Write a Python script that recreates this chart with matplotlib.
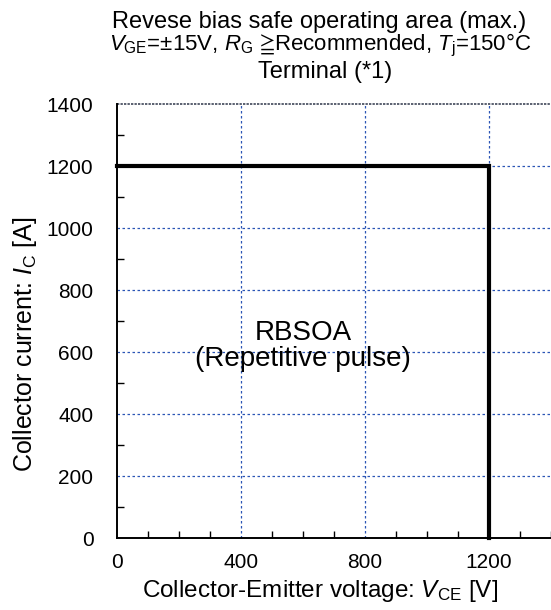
import matplotlib
matplotlib.use("Agg")
import matplotlib.pyplot as plt
from matplotlib.ticker import MultipleLocator

plt.rcParams['font.family'] = ['Liberation Sans', 'DejaVu Sans']
plt.rcParams['mathtext.fontset'] = 'custom'
plt.rcParams['mathtext.rm'] = 'Liberation Sans'
plt.rcParams['mathtext.it'] = 'Liberation Sans:italic'
plt.rcParams['mathtext.fallback'] = 'stixsans'

# Data
vce = [0, 1200, 1200]
ic = [1200, 1200, 0]
x_ticks = [0, 400, 800, 1200]
y_ticks = [0, 200, 400, 600, 800, 1000, 1200, 1400]
x_grid = [400, 800, 1200]
y_grid = [200, 400, 600, 800, 1000, 1200]

W, H = 551, 610
fig = plt.figure(figsize=(W/100, H/100), dpi=100)
ax = fig.add_axes([117/W, (H-538)/H, 1 - 117/W, (538-104)/H])

ax.plot(vce, ic, color='black', lw=3, solid_joinstyle='miter', zorder=3, clip_on=False)

ax.set_xlim(0, 1400)
ax.set_ylim(0, 1400)
ax.set_xticks(x_ticks)
ax.set_yticks(y_ticks)
ax.xaxis.set_minor_locator(MultipleLocator(100))
ax.yaxis.set_minor_locator(MultipleLocator(100))
ax.tick_params(which='both', direction='in', labelsize=15, width=1)
ax.tick_params(which='major', length=0)
ax.tick_params(which='minor', length=5)
ax.tick_params(axis='y', which='major', pad=17)
ax.tick_params(axis='x', which='major', pad=11)

for s in ['top', 'right']:
    ax.spines[s].set_visible(False)
for s in ['left', 'bottom']:
    ax.spines[s].set_linewidth(1.4)

for x in x_grid:
    ax.axvline(x, color='#2a55b5', lw=0.9, ls=(0, (2, 2)), zorder=1)
for y in y_grid:
    ax.axhline(y, color='#2a55b5', lw=0.9, ls=(0, (2, 2)), zorder=1)
ax.axhline(1400, color='#5a6070', lw=1.4, ls=(0, (1.2, 0.6)), zorder=1, clip_on=False)

fig.text(320/W, 1 - 597/H, 'Collector-Emitter voltage: $V_{\\mathrm{CE}}$ [V]',
         ha='center', va='baseline', fontsize=17.5)
fig.text(25/W, 1 - 344/H, 'Collector current: $I_{\\mathrm{C}}$ [A]',
         ha='center', va='center', rotation=90, fontsize=18)

ax.text(600, 639, 'RBSOA', ha='center', va='baseline', fontsize=20)
ax.text(600, 555, '(Repetitive pulse)', ha='center', va='baseline', fontsize=20)

fig.text(319/W, 1 - 28/H, 'Revese bias safe operating area (max.)',
         ha='center', va='baseline', fontsize=17)
fig.text(320/W, 1 - 50/H,
         '$V_{\\mathrm{GE}}$=±15V, $R_{\\mathrm{G}}$ $\\mathrm{≧}$Recommended, $T_{\\mathrm{j}}$=150°C',
         ha='center', va='baseline', fontsize=16)
fig.text(325/W, 1 - 78/H, 'Terminal (*1)', ha='center', va='baseline', fontsize=17)

fig.savefig('out.png', dpi=100)
